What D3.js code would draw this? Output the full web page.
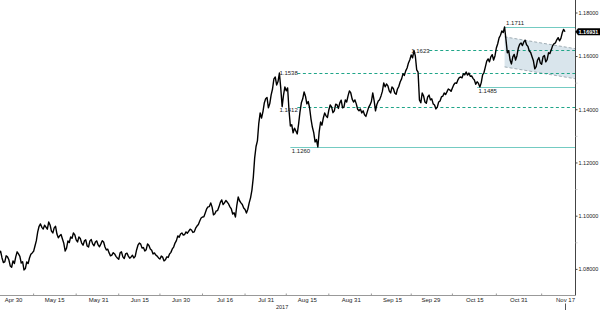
<!DOCTYPE html>
<html lang="en">
<head>
<meta charset="UTF-8">
<title>EUR/USD</title>
<script src="https://d3js.org/d3.v7.min.js"></script>
<style>
  body { margin: 0; background: #fff; }
  svg { display: block; font-family: "Liberation Sans", Arial, sans-serif; }
</style>
</head>
<body>
<svg id="chart" width="600" height="310"></svg>
<script>
// twice-daily prices from the first date on
const startDate = "2017-04-25";
const prices = [
  1.0862, 1.0868, 1.0843, 1.0826, 1.0828, 1.0851, 1.0847, 1.0836, 1.0813, 1.0808, 1.0832, 1.0822, 1.0847, 1.0866, 1.0858, 1.0849, 1.0824, 1.0829, 1.0798, 1.0803,
  1.0828, 1.0822, 1.0843, 1.0857, 1.0862, 1.0868, 1.0888, 1.0908, 1.0941, 1.0962, 1.0971, 1.0958, 1.0952, 1.0966, 1.0959, 1.0951, 1.0978, 1.0967, 1.0944, 1.0937,
  1.0956, 1.0962, 1.0933, 1.0919, 1.0926, 1.0931, 1.0914, 1.0898, 1.0869, 1.0880, 1.0907, 1.0901, 1.0922, 1.0917, 1.0937, 1.0930, 1.0911, 1.0903, 1.0922, 1.0916,
  1.0899, 1.0891, 1.0907, 1.0911, 1.0888, 1.0884, 1.0907, 1.0912, 1.0896, 1.0889, 1.0903, 1.0907, 1.0892, 1.0885, 1.0896, 1.0908, 1.0903, 1.0884, 1.0873, 1.0876,
  1.0862, 1.0851, 1.0854, 1.0863, 1.0858, 1.0849, 1.0843, 1.0838, 1.0862, 1.0866, 1.0847, 1.0841, 1.0858, 1.0861, 1.0850, 1.0842, 1.0847, 1.0853, 1.0843, 1.0849,
  1.0873, 1.0891, 1.0899, 1.0895, 1.0880, 1.0882, 1.0869, 1.0874, 1.0896, 1.0890, 1.0877, 1.0872, 1.0858, 1.0862, 1.0854, 1.0850, 1.0843, 1.0839, 1.0850, 1.0846,
  1.0832, 1.0836, 1.0847, 1.0845, 1.0858, 1.0864, 1.0877, 1.0884, 1.0899, 1.0908, 1.0926, 1.0921, 1.0933, 1.0937, 1.0929, 1.0931, 1.0941, 1.0936, 1.0944, 1.0951,
  1.0948, 1.0939, 1.0941, 1.0955, 1.0963, 1.0969, 1.0982, 1.0993, 1.0997, 1.0998, 1.1012, 1.1027, 1.1035, 1.1036, 1.1050, 1.1034, 1.1005, 1.1009, 1.1020, 1.1021,
  1.1035, 1.1052, 1.1061, 1.1044, 1.1050, 1.1059, 1.1053, 1.1046, 1.1035, 1.1027, 1.1008, 1.1013, 1.0997, 1.1041, 1.1072, 1.1058, 1.1050, 1.1044, 1.1031, 1.1025,
  1.1012, 1.1026, 1.1050, 1.1069, 1.1098, 1.1146, 1.1219, 1.1262, 1.1283, 1.1349, 1.1388, 1.1369, 1.1392, 1.1425, 1.1441, 1.1446, 1.1407, 1.1423, 1.1456, 1.1478,
  1.1516, 1.1523, 1.1493, 1.1506, 1.1538, 1.1481, 1.1412, 1.1455, 1.1486, 1.1471, 1.1482, 1.1398, 1.1339, 1.1344, 1.1313, 1.1331, 1.1320, 1.1309, 1.1347, 1.1392,
  1.1426, 1.1441, 1.1467, 1.1451, 1.1422, 1.1431, 1.1407, 1.1366, 1.1335, 1.1314, 1.1279, 1.1288, 1.1260, 1.1318, 1.1354, 1.1342, 1.1369, 1.1388, 1.1377, 1.1371,
  1.1399, 1.1418, 1.1411, 1.1389, 1.1396, 1.1421, 1.1418, 1.1405, 1.1426, 1.1436, 1.1407, 1.1410, 1.1437, 1.1429, 1.1452, 1.1471, 1.1463, 1.1440, 1.1429, 1.1437,
  1.1422, 1.1402, 1.1396, 1.1403, 1.1388, 1.1396, 1.1381, 1.1375, 1.1392, 1.1409, 1.1418, 1.1431, 1.1463, 1.1434, 1.1396, 1.1420, 1.1433, 1.1438, 1.1452, 1.1469,
  1.1501, 1.1486, 1.1497, 1.1490, 1.1471, 1.1463, 1.1486, 1.1480, 1.1463, 1.1458, 1.1478, 1.1488, 1.1505, 1.1516, 1.1535, 1.1529, 1.1546, 1.1557, 1.1576, 1.1588,
  1.1606, 1.1595, 1.1623, 1.1602, 1.1550, 1.1541, 1.1437, 1.1426, 1.1463, 1.1452, 1.1429, 1.1424, 1.1448, 1.1455, 1.1437, 1.1441, 1.1422, 1.1418, 1.1403, 1.1410,
  1.1429, 1.1433, 1.1448, 1.1451, 1.1463, 1.1457, 1.1467, 1.1478, 1.1475, 1.1469, 1.1482, 1.1494, 1.1501, 1.1499, 1.1512, 1.1521, 1.1523, 1.1520, 1.1535, 1.1531,
  1.1542, 1.1530, 1.1538, 1.1526, 1.1527, 1.1518, 1.1512, 1.1496, 1.1505, 1.1499, 1.1485, 1.1502, 1.1531, 1.1540, 1.1561, 1.1583, 1.1591, 1.1580, 1.1599, 1.1607,
  1.1587, 1.1602, 1.1632, 1.1648, 1.1670, 1.1680, 1.1696, 1.1690, 1.1711, 1.1664, 1.1614, 1.1622, 1.1587, 1.1572, 1.1599, 1.1608, 1.1587, 1.1603, 1.1632, 1.1646,
  1.1651, 1.1641, 1.1655, 1.1661, 1.1644, 1.1638, 1.1621, 1.1615, 1.1599, 1.1584, 1.1554, 1.1562, 1.1587, 1.1596, 1.1576, 1.1571, 1.1599, 1.1604, 1.1580, 1.1588,
  1.1614, 1.1611, 1.1625, 1.1641, 1.1648, 1.1651, 1.1663, 1.1671, 1.1659, 1.1668, 1.1689, 1.1702, 1.16931
];
const lastPrice = 1.16931;

const tickDates = ["2017-04-30", "2017-05-15", "2017-05-31", "2017-06-15", "2017-06-30",
  "2017-07-16", "2017-07-31", "2017-08-15", "2017-08-31", "2017-09-15", "2017-09-29",
  "2017-10-15", "2017-10-31", "2017-11-17"];
const yearLabel = "2017";
const yTicks = [1.08, 1.10, 1.12, 1.14, 1.16, 1.18];
const yMinorTicks = [1.09, 1.11, 1.13, 1.15, 1.17];

// swing highs / lows (solid) and breakout levels (dashed)
const solidLevels = [1.1711, 1.1485, 1.1260];
const solidFrom = ["2017-10-26", "2017-10-16", "2017-08-09"];
const dashedLevels = [1.1623, 1.1538, 1.1412];
const dashedFrom = ["2017-09-22", "2017-08-05", "2017-08-05"];

// falling channel
const channelDates = ["2017-10-26", "2017-11-21"];
const channelUpper = [1.1674, 1.1629];
const channelLower = [1.1561, 1.1516];

const svg = d3.select("#chart");
const parse = d3.timeParse("%Y-%m-%d");
const axisX = 575.5;
const axisY = 295.5;

const x = d3.scaleTime()
  .domain([parse("2017-04-30"), parse("2017-11-17")])
  .range([13, 565]);
const y = d3.scaleLinear()
  .domain([1.08, 1.18])
  .range([269.4, 3.3]);

const start = parse(startDate);
const series = prices.map((v, i) => ({ date: d3.timeHour.offset(start, 12 * i), value: v }));

svg.append("defs").append("clipPath").attr("id", "plot")
  .append("rect").attr("x", 0).attr("y", 0).attr("width", axisX).attr("height", axisY);

const plot = svg.append("g").attr("clip-path", "url(#plot)");

// channel
const chan = channelDates.map((d, i) => ({ date: parse(d), hi: channelUpper[i], lo: channelLower[i] }));
plot.append("path")
  .datum(chan)
  .attr("d", d3.area().x(d => x(d.date)).y0(d => y(d.lo)).y1(d => y(d.hi)))
  .attr("fill", "#d9e5ec");
["hi", "lo"].forEach(k => {
  plot.append("path")
    .datum(chan)
    .attr("d", d3.line().x(d => x(d.date)).y(d => y(d[k])))
    .attr("fill", "none")
    .attr("stroke", "#8c9aa3")
    .attr("stroke-width", 0.8)
    .attr("stroke-dasharray", "3,2");
});

// level lines
const fmt = d3.format(".4f");
const solidDy = [-1.5, 6, 6];
solidLevels.forEach((v, i) => {
  const x0 = x(parse(solidFrom[i]));
  plot.append("line")
    .attr("x1", x0).attr("x2", axisX)
    .attr("y1", Math.round(y(v)) + 0.5).attr("y2", Math.round(y(v)) + 0.5)
    .attr("stroke", "#74cbc2").attr("stroke-width", 1);
  svg.append("text")
    .attr("x", x0 + 1.5).attr("y", y(v) + solidDy[i])
    .attr("font-size", 6).attr("fill", "#222")
    .text(fmt(v));
});
dashedLevels.forEach((v, i) => {
  const x0 = x(parse(dashedFrom[i]));
  plot.append("line")
    .attr("x1", x0 + 18).attr("x2", axisX)
    .attr("y1", Math.round(y(v)) + 0.5).attr("y2", Math.round(y(v)) + 0.5)
    .attr("stroke", "#1fa588").attr("stroke-width", 1)
    .attr("stroke-dasharray", "3,2.5");
  svg.append("text")
    .attr("x", x0).attr("y", y(v) + (i === 2 ? 5.5 : 2.2))
    .attr("font-size", 6).attr("fill", "#222")
    .text(fmt(v));
});

// price line
plot.append("path")
  .datum(series)
  .attr("d", d3.line().x(d => x(d.date)).y(d => y(d.value)))
  .attr("fill", "none")
  .attr("stroke", "#000")
  .attr("stroke-width", 1.4)
  .attr("stroke-linejoin", "round");

// right axis
svg.append("line")
  .attr("x1", axisX).attr("x2", axisX).attr("y1", 0).attr("y2", axisY)
  .attr("stroke", "#444");
const yAxis = svg.append("g")
  .attr("transform", `translate(${axisX},0)`)
  .call(d3.axisRight(y).tickValues(yTicks).tickFormat(d3.format(".5f")).tickSize(2).tickPadding(1));
yAxis.select(".domain").remove();
yAxis.selectAll(".tick")
  .attr("transform", d => `translate(0,${Math.max(y(d), 13)})`);
yAxis.selectAll("text").attr("font-size", 5.5).attr("fill", "#222")
  .attr("font-family", "Liberation Sans, Arial, sans-serif");
yAxis.selectAll("line").attr("stroke", "#444");
svg.selectAll(".minor-y")
  .data(yMinorTicks)
  .enter().append("line")
  .attr("class", "minor-y")
  .attr("x1", axisX).attr("x2", axisX + 2)
  .attr("y1", d => y(d)).attr("y2", d => y(d))
  .attr("stroke", "#ccc");

// last price tag
const ly = y(lastPrice);
svg.append("path")
  .attr("d", `M${axisX},${ly} L${axisX + 2.5},${ly - 3.5} H600 V${ly + 3.5} H${axisX + 2.5} Z`)
  .attr("fill", "#000");
svg.append("text")
  .attr("x", axisX + 3).attr("y", ly + 2)
  .attr("font-size", 5.5).attr("font-weight", "bold").attr("fill", "#fff")
  .text(d3.format(".5f")(lastPrice));

// bottom axis
svg.append("line")
  .attr("x1", 0).attr("x2", axisX).attr("y1", axisY).attr("y2", axisY)
  .attr("stroke", "#999");
const ticks = tickDates.map(parse);
const mids = ticks.slice(1).map((d, i) => new Date((d.getTime() + ticks[i].getTime()) / 2));
svg.selectAll(".minor-x")
  .data(mids)
  .enter().append("line")
  .attr("class", "minor-x")
  .attr("x1", d => x(d)).attr("x2", d => x(d))
  .attr("y1", axisY - 2).attr("y2", axisY)
  .attr("stroke", "#999");
const xAxis = svg.append("g")
  .attr("transform", `translate(0,${axisY})`)
  .call(d3.axisBottom(x).tickValues(ticks).tickFormat(d3.timeFormat("%b %d")).tickSize(0).tickPadding(2.5));
xAxis.select(".domain").remove();
xAxis.selectAll("text").attr("font-size", 6).attr("fill", "#222")
  .attr("font-family", "Liberation Sans, Arial, sans-serif");
svg.append("line")
  .attr("x1", x(ticks[ticks.length - 1]) + 0.5).attr("x2", x(ticks[ticks.length - 1]) + 0.5)
  .attr("y1", axisY + 8).attr("y2", 310)
  .attr("stroke", "#555");
svg.append("text")
  .attr("x", x(parse("2017-08-06"))).attr("y", 309)
  .attr("text-anchor", "middle")
  .attr("font-size", 5.5).attr("fill", "#222")
  .text(yearLabel);
</script>
</body>
</html>
